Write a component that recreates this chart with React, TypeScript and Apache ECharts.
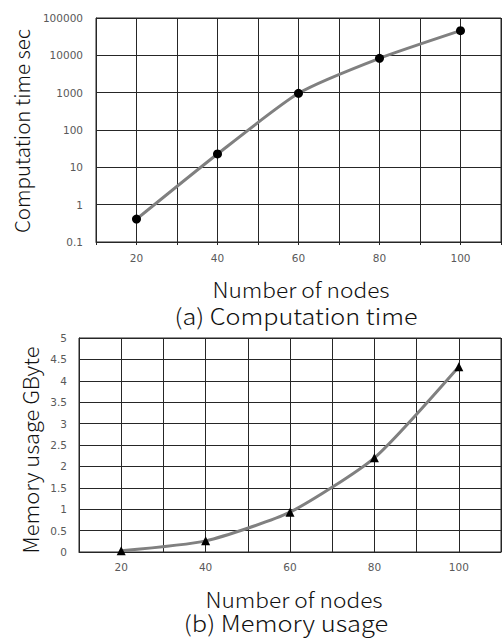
import React, { useEffect, useRef } from "react";
import * as echarts from "echarts";

const nodes = [20, 40, 60, 80, 100];
const computationTime = [0.41, 22.8, 960, 8300, 45700];
const memoryUsage = [0.03, 0.26, 0.93, 2.2, 4.33];
const xTickLabels = [20, 40, 60, 80, 100];
const timeTickLabels = ["0.1", "1", "10", "100", "1000", "10000", "100000"];

const FONT = "'Noto Sans CJK JP', 'Noto Sans', sans-serif";
const TICK_FONT = "'DejaVu Sans', sans-serif";
const GRID_COLOR = "#262626";
const LABEL_COLOR = "#595959";

export default function App() {
  const ref = useRef<HTMLDivElement>(null);
  useEffect(() => {
    document.body.style.margin = "0";
    const chart = echarts.init(ref.current!, null, { renderer: "svg" });
    const xAxisCommon = (gridIndex: number, margin: number) => ({
      type: "value",
      gridIndex,
      min: 10,
      max: 110,
      interval: 10,
      axisLine: { show: true, lineStyle: { color: GRID_COLOR, width: 1 } },
      axisTick: { show: gridIndex === 0, length: 3, lineStyle: { color: GRID_COLOR } },
      splitLine: { show: true, lineStyle: { color: GRID_COLOR, width: 1 } },
      axisLabel: {
        margin,
        color: LABEL_COLOR,
        fontSize: 10.5,
        fontFamily: TICK_FONT,
        formatter: (v: number) => (xTickLabels.includes(v) ? String(v) : ""),
      },
    });
    const textEl = (text: string, x: number, y: number, fontSize: number, scaleX: number, rotated = false) => ({
      type: "text",
      x,
      y,
      scaleX,
      rotation: rotated ? Math.PI / 2 : 0,
      style: {
        text,
        fontSize,
        fontWeight: 300,
        fontFamily: FONT,
        fill: "#111",
        align: "center",
        verticalAlign: "middle",
      },
    });
    chart.setOption({
      animation: false,
      textStyle: { fontFamily: FONT },
      grid: [
        { left: 96, top: 18, width: 407, height: 224, show: true, borderColor: GRID_COLOR, borderWidth: 1 },
        { left: 79, top: 338, width: 425, height: 214, show: true, borderColor: GRID_COLOR, borderWidth: 1 },
      ],
      xAxis: [xAxisCommon(0, 10), xAxisCommon(1, 9)],
      yAxis: [
        {
          type: "log",
          gridIndex: 0,
          logBase: 10,
          min: 0.1,
          max: 100000,
          splitNumber: 6,
          axisLine: { show: true, lineStyle: { color: GRID_COLOR } },
          axisTick: { show: false },
          splitLine: { show: true, lineStyle: { color: GRID_COLOR, width: 1 } },
          axisLabel: {
            margin: 13,
            color: LABEL_COLOR,
            fontSize: 10.5,
            fontFamily: TICK_FONT,
            formatter: (v: number) => {
              const idx = Math.round(Math.log10(v)) + 1;
              return timeTickLabels[idx] ?? String(v);
            },
          },
        },
        {
          type: "value",
          gridIndex: 1,
          min: 0,
          max: 5,
          interval: 0.5,
          axisLine: { show: true, lineStyle: { color: GRID_COLOR } },
          axisTick: { show: false },
          splitLine: { show: true, lineStyle: { color: GRID_COLOR, width: 1 } },
          axisLabel: { margin: 12, color: LABEL_COLOR, fontSize: 10.5, fontFamily: TICK_FONT },
        },
      ],
      series: [
        {
          type: "line",
          xAxisIndex: 0,
          yAxisIndex: 0,
          data: nodes.map((n, i) => [n, computationTime[i]]),
          smooth: 0.2,
          symbol: "circle",
          symbolSize: 9,
          lineStyle: { color: "#808080", width: 3 },
          itemStyle: { color: "#000" },
          z: 5,
        },
        {
          type: "line",
          xAxisIndex: 1,
          yAxisIndex: 1,
          data: nodes.map((n, i) => [n, memoryUsage[i]]),
          smooth: 0.2,
          symbol: "triangle",
          symbolSize: 9,
          lineStyle: { color: "#808080", width: 3 },
          itemStyle: { color: "#000" },
          z: 5,
        },
      ],
      graphic: [
        textEl("Computation time sec", 21, 131, 20.5, 1, true),
        textEl("Number of nodes", 301, 289, 21, 1.08),
        textEl("(a) Computation time", 296, 315, 22.5, 1.12),
        textEl("Memory usage GByte", 30, 450, 21, 1.04, true),
        textEl("Number of nodes", 294, 599, 21, 1.08),
        textEl("(b) Memory usage", 286, 622, 22.5, 1.13),
      ],
    });
    return () => chart.dispose();
  }, []);
  return <div ref={ref} style={{ width: 504, height: 638 }} />;
}
